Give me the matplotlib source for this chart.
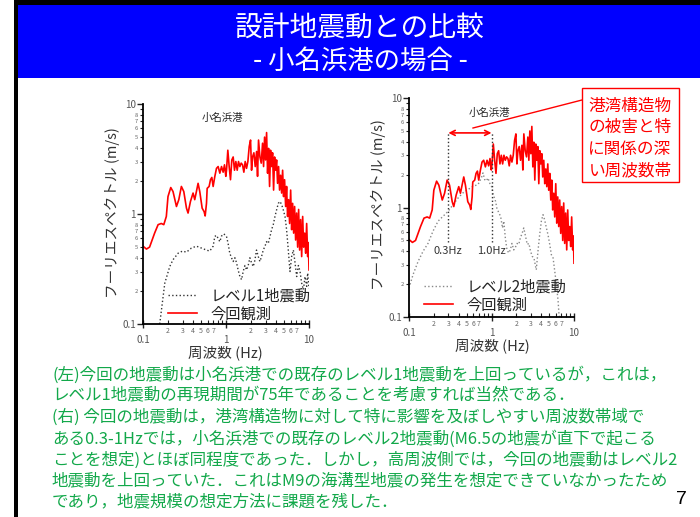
import numpy as np
import matplotlib
matplotlib.use("Agg")
import matplotlib.pyplot as plt
from matplotlib.patches import Rectangle
from matplotlib.lines import Line2D
from matplotlib.ticker import LogLocator, FuncFormatter

plt.rcParams['font.family'] = ['Noto Sans CJK JP', 'DejaVu Sans']

# ---- data -------------------------------------------------------------
# observed Fourier spectrum (Onahama port), frequency [Hz] and amplitude [m/s]
obs_freq = [0.100, 0.110, 0.120, 0.138, 0.152, 0.166, 0.178, 0.191, 0.200, 0.216,
            0.230, 0.253, 0.270, 0.290, 0.310, 0.334, 0.349, 0.373, 0.401, 0.420,
            0.440, 0.461, 0.483, 0.516, 0.545, 0.561, 0.582, 0.593, 0.626, 0.650,
            0.675, 0.700, 0.733, 0.768, 0.804, 0.843, 0.883, 0.924, 0.959, 0.995,
            1.014, 1.052, 1.092, 1.133, 1.175, 1.220, 1.266, 1.314, 1.364, 1.415,
            1.469, 1.524, 1.582, 1.641, 1.703, 1.768, 1.835, 1.904, 1.976, 2.032,
            2.089, 2.168, 2.250, 2.335, 2.399, 2.466, 2.562, 2.658, 2.758, 2.836,
            2.916, 2.998, 3.083, 3.170, 3.259, 3.350, 3.444, 3.541, 3.641, 3.744,
            3.849, 3.957, 4.07, 4.18, 4.30, 4.42, 4.55, 4.68, 4.81, 4.94,
            5.08, 5.23, 5.37, 5.52, 5.68, 5.84, 6.01, 6.18, 6.35, 6.53,
            6.71, 6.90, 7.10, 7.30, 7.50, 7.71, 7.93, 8.16, 8.39, 8.62,
            8.87, 9.12, 9.37, 9.64, 9.82, 10.0]
obs_amp = [0.51, 0.48, 0.50, 0.67, 0.80, 0.82, 0.80, 0.95, 1.44, 1.74,
           1.60, 1.17, 1.35, 1.78, 1.60, 1.13, 1.02, 1.30, 1.55, 1.35,
           1.60, 1.90, 1.60, 1.13, 1.05, 0.96, 1.25, 1.71, 1.78, 2.05,
           2.15, 1.78, 2.19, 2.60, 2.70, 2.35, 2.70, 2.40, 2.80, 2.20,
           2.50, 3.80, 2.70, 2.05, 3.10, 3.30, 2.50, 3.00, 2.50, 3.00,
           2.70, 2.90, 2.80, 2.40, 3.00, 2.60, 3.00, 4.10, 4.70, 2.50,
           3.30, 3.60, 2.70, 3.70, 2.20, 4.70, 3.30, 2.90, 4.40, 2.70,
           5.00, 3.10, 5.50, 2.35, 3.95, 1.78, 3.80, 2.70, 3.60, 1.65,
           3.30, 2.50, 3.10, 1.90, 2.70, 1.65, 2.25, 1.55, 2.50, 1.44,
           2.05, 1.17, 1.78, 0.95, 1.35, 0.82, 1.65, 0.72, 1.25, 0.67,
           1.17, 0.58, 1.02, 0.50, 1.10, 0.47, 0.89, 0.41, 0.95, 0.50,
           0.67, 0.44, 0.82, 0.41, 0.55, 0.31]

# level-1 design ground motion
lv1_freq = [0.159, 0.183, 0.210, 0.230, 0.265, 0.299, 0.334, 0.383, 0.440, 0.506,
            0.582, 0.637, 0.700, 0.733, 0.768, 0.804, 0.843, 0.883, 0.941, 1.014,
            1.06, 1.11, 1.17, 1.22, 1.28, 1.34, 1.40, 1.47, 1.54, 1.61,
            1.69, 1.77, 1.85, 1.94, 2.03, 2.13, 2.23, 2.33, 2.45, 2.56,
            2.68, 2.81, 2.95, 3.08, 3.23, 3.39, 3.54, 3.71, 3.89, 4.07,
            4.27, 4.47, 4.68, 4.90, 5.14, 5.37, 5.63, 5.90, 6.18, 6.48,
            6.79, 7.10, 7.45, 7.80, 8.16, 8.56, 8.96, 9.38, 9.64, 10.0]
lv1_amp = [0.100, 0.235, 0.333, 0.384, 0.44, 0.46, 0.45, 0.49, 0.51, 0.49,
           0.47, 0.46, 0.51, 0.625, 0.64, 0.60, 0.56, 0.63, 0.66, 0.625,
           0.54, 0.44, 0.397, 0.37, 0.40, 0.36, 0.31, 0.27, 0.253, 0.30,
           0.34, 0.31, 0.34, 0.40, 0.36, 0.333, 0.38, 0.47, 0.41, 0.37,
           0.41, 0.47, 0.51, 0.56, 0.54, 0.625, 0.72, 0.80, 0.95, 1.09,
           1.25, 1.30, 1.22, 1.09, 0.95, 0.72, 0.47, 0.30, 0.41, 0.47,
           0.36, 0.27, 0.34, 0.30, 0.235, 0.205, 0.27, 0.22, 0.29, 0.21]

# level-2 design ground motion
lv2_freq = [0.100, 0.112, 0.129, 0.148, 0.170, 0.195, 0.225, 0.258, 0.297, 0.341,
            0.393, 0.451, 0.519, 0.596, 0.686, 0.753, 0.788, 0.826, 0.866, 0.907,
            0.951, 1.00, 1.05, 1.12, 1.16, 1.23, 1.29, 1.36, 1.41, 1.47,
            1.54, 1.62, 1.69, 1.77, 1.86, 1.94, 2.04, 2.14, 2.24, 2.35,
            2.46, 2.58, 2.71, 2.84, 2.97, 3.12, 3.27, 3.42, 3.49, 3.66,
            3.83, 4.02, 4.21, 4.41, 4.63, 4.85, 5.08, 5.32, 5.58, 5.85,
            6.13, 6.42, 6.58, 6.70]
lv2_amp = [0.184, 0.244, 0.322, 0.398, 0.47, 0.606, 0.75, 0.83, 0.92, 1.06,
           1.22, 1.36, 1.46, 1.56, 1.62, 1.86, 2.07, 1.80, 1.75, 1.86,
           1.67, 1.56, 1.31, 1.14, 0.99, 0.89, 0.83, 0.65, 0.75, 0.53,
           0.41, 0.385, 0.41, 0.47, 0.41, 0.43, 0.47, 0.46, 0.53, 0.58,
           0.65, 0.55, 0.46, 0.47, 0.40, 0.358, 0.346, 0.29, 0.27, 0.40,
           0.56, 0.75, 0.86, 0.77, 0.65, 0.56, 0.46, 0.37, 0.346, 0.26,
           0.196, 0.139, 0.105, 0.098]

band_edges = [0.3, 1.0]
band_labels = ["0.3Hz", "1.0Hz"]

title_main = "設計地震動との比較"
title_sub = "- 小名浜港の場合 -"
station = "小名浜港"
ylabel = "フーリエスペクトル (m/s)"
xlabel = "周波数 (Hz)"
callout_lines = ["港湾構造物", "の被害と特", "に関係の深", "い周波数帯"]
body_lines = [
    "(左)今回の地震動は小名浜港での既存のレベル1地震動を上回っているが，これは，",
    "レベル1地震動の再現期間が75年であることを考慮すれば当然である．",
    "(右) 今回の地震動は，港湾構造物に対して特に影響を及ぼしやすい周波数帯域で",
    "ある0.3-1Hzでは，小名浜港での既存のレベル2地震動(M6.5の地震が直下で起こる",
    "ことを想定)とほぼ同程度であった．しかし，高周波側では，今回の地震動はレベル2",
    "地震動を上回っていた．これはM9の海溝型地震の発生を想定できていなかったため",
    "であり，地震規模の想定方法に課題を残した．",
]
page_no = "7"

# ---- figure -----------------------------------------------------------
W, H = 700, 517
fig = plt.figure(figsize=(W / 100, H / 100), dpi=100)
fig.patch.set_facecolor("white")


def fx(px):
    return px / W


def fy(py):
    return 1 - py / H


# slide frame and title band
fig.patches.append(Rectangle((fx(14), 0), fx(4), 1, transform=fig.transFigure,
                             facecolor="black", edgecolor="none", zorder=0))
fig.patches.append(Rectangle((fx(14), fy(5)), 1, fy(0) - fy(5), transform=fig.transFigure,
                             facecolor="black", edgecolor="none", zorder=0))
fig.patches.append(Rectangle((fx(18), fy(78)), 1, fy(5) - fy(78), transform=fig.transFigure,
                             facecolor="#0000ff", edgecolor="none", zorder=0))
fig.text(fx(360), fy(28), title_main, color="white", fontsize=20, ha="center", va="center")
fig.text(fx(360), fy(61), title_sub, color="white", fontsize=19, ha="center", va="center")


def minor_fmt(maxdigit):
    def f(v, pos):
        e = np.floor(np.log10(v) + 1e-9)
        d = int(round(v / 10 ** e))
        return str(d) if d <= maxdigit else ""
    return FuncFormatter(f)


def major_fmt(v, pos):
    if v >= 1:
        return "%d" % round(v)
    return "0.1"


def style_axes(ax):
    ax.set_xscale("log")
    ax.set_yscale("log")
    ax.set_xlim(0.1, 10)
    ax.set_ylim(0.1, 10)
    for s in ("top", "right"):
        ax.spines[s].set_visible(False)
    for s in ("left", "bottom"):
        ax.spines[s].set_linewidth(1.3)
    ax.xaxis.set_major_locator(LogLocator(base=10, numticks=5))
    ax.yaxis.set_major_locator(LogLocator(base=10, numticks=5))
    ax.xaxis.set_minor_locator(LogLocator(base=10, subs=range(2, 10), numticks=12))
    ax.yaxis.set_minor_locator(LogLocator(base=10, subs=range(2, 10), numticks=12))
    ax.xaxis.set_major_formatter(FuncFormatter(major_fmt))
    ax.yaxis.set_major_formatter(FuncFormatter(major_fmt))
    ax.xaxis.set_minor_formatter(minor_fmt(7))
    ax.yaxis.set_minor_formatter(minor_fmt(8))
    ax.tick_params(axis="x", which="major", direction="inout", length=6, width=1,
                   labelsize=7, pad=5, colors="#222", labelcolor="#555")
    ax.tick_params(axis="x", which="minor", direction="in", length=3, width=0.8,
                   labelsize=5, pad=2, colors="#222", labelcolor="#666")
    ax.tick_params(axis="y", which="major", direction="out", length=4, width=1,
                   labelsize=7, pad=1, colors="#222", labelcolor="#555")
    ax.tick_params(axis="y", which="minor", direction="out", length=2.5, width=0.8,
                   labelsize=4.2, pad=1, colors="#222", labelcolor="#666")
    ax.set_facecolor("none")


# left panel: level 1
axL = fig.add_axes([fx(143), fy(324), fx(309) - fx(143), fy(104) - fy(324)])
style_axes(axL)
axL.plot(lv1_freq, lv1_amp, color="#333", ls=":", lw=1.0, label="レベル1地震動")
axL.plot(obs_freq, obs_amp, color="#ff0000", lw=1.2, label="今回観測")
axL.text(0.48, 0.936, station, transform=axL.transAxes, fontsize=7.5, ha="center",
         va="center", color="#222")
axL.legend(loc="lower left", bbox_to_anchor=(0.14, 0.0), frameon=False, fontsize=11,
           handlelength=1.9, handletextpad=0.9, labelspacing=0.05, borderpad=0.1,
           borderaxespad=0.0, labelcolor="#222")

# right panel: level 2
axR = fig.add_axes([fx(409), fy(317), fx(574) - fx(409), fy(98) - fy(317)])
style_axes(axR)
axR.plot(lv2_freq, lv2_amp, color="#888", ls=":", lw=1.0, label="レベル2地震動")
axR.plot(obs_freq, obs_amp, color="#ff0000", lw=1.2, label="今回観測")
axR.vlines(band_edges, 0.48, 4.9, colors="#333", linestyles=":", lw=1.0)
for xe, lab in zip(band_edges, band_labels):
    axR.text(xe, 0.40, lab, fontsize=8, ha="center", va="center", color="#333")
axR.annotate("", xy=(band_edges[1], 4.8), xytext=(band_edges[0], 4.8),
             arrowprops=dict(arrowstyle="<->", color="red", lw=1.2,
                             shrinkA=0, shrinkB=0, mutation_scale=9))
axR.text(0.49, 0.93, station, transform=axR.transAxes, fontsize=7.5, ha="center",
         va="center", color="#222")
axR.legend(loc="lower left", bbox_to_anchor=(0.08, 0.01), frameon=False, fontsize=11,
           handlelength=1.9, handletextpad=0.9, labelspacing=0.05, borderpad=0.1,
           borderaxespad=0.0, labelcolor="#222")

# axis labels
fig.text(fx(112), fy(213), ylabel, rotation=90, fontsize=10.5, ha="center", va="center",
         color="#333")
fig.text(fx(378), fy(205), ylabel, rotation=90, fontsize=10.5, ha="center", va="center",
         color="#333")
fig.text(fx(225), fy(353), xlabel, fontsize=10.5, ha="center", va="center", color="#333")
fig.text(fx(492), fy(346), xlabel, fontsize=10.5, ha="center", va="center", color="#333")

# callout box
fig.patches.append(Rectangle((fx(582), fy(182)), fx(679) - fx(582), fy(88) - fy(182),
                             transform=fig.transFigure, facecolor="white",
                             edgecolor="#ff0000", lw=1.0, zorder=3))
for i, s in enumerate(callout_lines):
    fig.text(fx(630), fy(106 + 21.5 * i), s, color="#ff0000", fontsize=12,
             ha="center", va="center", zorder=4)
fig.lines.append(Line2D([fx(582), fx(473)], [fy(100), fy(128)], transform=fig.transFigure,
                        color="#ff0000", lw=1.0))

# explanatory text
for i, s in enumerate(body_lines):
    fig.text(fx(52), fy(375 + 21.2 * i), s, color="#12a84a", fontsize=11.9,
             ha="left", va="center")
fig.text(fx(681), fy(499), page_no, color="black", fontsize=14, ha="center", va="center",
         family=["Liberation Sans", "DejaVu Sans"])

fig.savefig("out.png", dpi=100)
